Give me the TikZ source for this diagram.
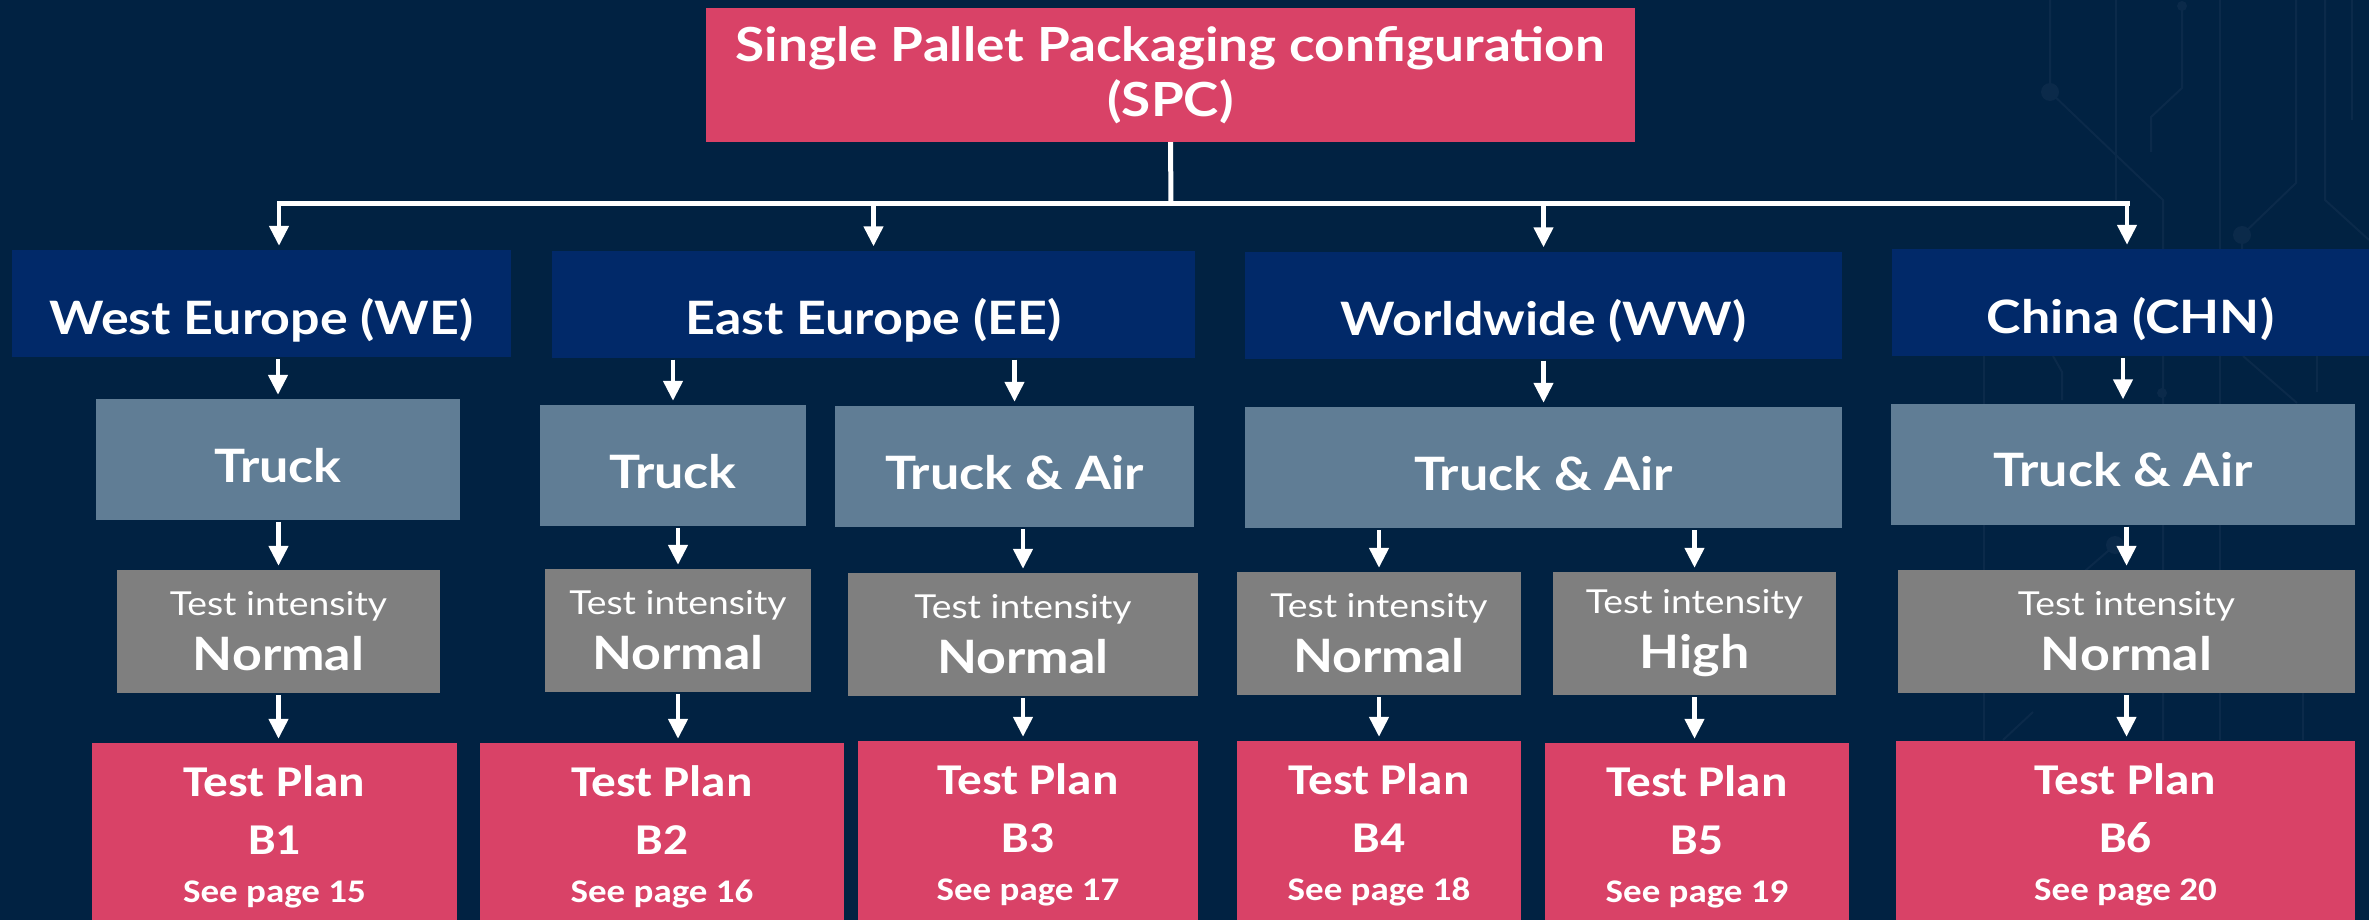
\documentclass[tikz,border=0pt]{standalone}
\usepackage{fontspec}
\setmainfont{Lato}[FakeStretch=1.13]
\newfontfamily\calib{Carlito}[FakeStretch=1.12]
\usetikzlibrary{arrows.meta}
\definecolor{bgnavy}{HTML}{012242}
\definecolor{regblue}{HTML}{012969}
\definecolor{trgrey}{HTML}{607D95}
\definecolor{intgrey}{HTML}{7F7F7F}
\definecolor{pinkred}{HTML}{D94267}
\definecolor{circuit}{HTML}{0B2A4A}
\begin{document}
\begin{tikzpicture}[x=1pt,y=-1pt,
  box/.style={rectangle, inner sep=0pt, text=white, align=center},
  spcbox/.style={box, fill=pinkred, minimum width=929pt, minimum height=134pt,
    font=\fontsize{47}{55}\selectfont\bfseries},
  regbox/.style={box, fill=regblue, minimum height=107pt, text height=61pt, text depth=0pt,
    font=\fontsize{46}{55}\selectfont\bfseries},
  trbox/.style={box, fill=trgrey, minimum height=121pt, text height=45pt, text depth=0pt,
    font=\fontsize{46}{55}\selectfont\bfseries},
  intbox/.style={box, fill=intgrey, minimum height=123pt,
    font=\fontsize{46}{55}\selectfont},
  planbox/.style={box, fill=pinkred, minimum height=188pt,
    font=\calib\fontsize{44}{58}\selectfont\bfseries},
  busline/.style={draw=white, line width=5pt},
  arr/.style={draw=white, line width=4.5pt, -{Triangle[width=19pt,length=20pt]},
    shorten <=2pt, shorten >=4pt},
  circ/.style={draw=circuit, line width=2pt}
]
\fill[bgnavy] (0,0) rectangle (2369,920);
\useasboundingbox (0,0) rectangle (2369,920);
\clip (0,0) rectangle (2369,920);

% faint circuit decoration
\draw[circ] (2050,0) -- (2050,92) -- (2163,200) -- (2163,740);
\fill[circuit] (2050,92) circle (9);
\draw[circ] (2116,0) -- (2116,200);
\draw[circ] (2182,6) -- (2182,88) -- (2151,117) -- (2151,152);
\fill[circuit] (2182,6) circle (5);
\draw[circ] (2220,0) -- (2220,740);
\draw[circ] (2296,0) -- (2296,183) -- (2242,235) -- (2242,260);
\fill[circuit] (2242,235) circle (9);
\draw[circ] (2325,0) -- (2325,200) -- (2369,240);
\draw[circ] (2352,0) -- (2352,120);
\draw[circ] (1984,356) -- (1984,740);
\draw[circ] (2053,356) -- (2062,372) -- (2062,400);
\fill[circuit] (2162,393) circle (5);
\draw[circ] (2243,356) -- (2297,403);
\draw[circ] (2317,356) -- (2317,392);
\draw[circ] (2115,545) -- (2063,590) -- (2063,690);
\fill[circuit] (2115,545) circle (9);
\draw[circ] (2033,712) -- (2003,740);
\draw[circ] (2303,693) -- (2303,740);

% top
\node[spcbox] (spc) at (1170.5,75) {Single Pallet Packaging configuration\\(SPC)};

% regions
\node[regbox, minimum width=499pt] (we) at (261.5,303.5) {West Europe (WE)};
\node[regbox, minimum width=643pt] (ee) at (873.5,304) {East Europe (EE)};
\node[regbox, minimum width=597pt] (ww) at (1543.5,305) {Worldwide (WW)};
\node[regbox, minimum width=477pt] (chn) at (2130.5,302.5) {China (CHN)};

% transport
\node[trbox, minimum width=364pt] (wetr) at (278,459.5) {Truck};
\node[trbox, minimum width=266pt] (eetr) at (673,465.5) {Truck};
\node[trbox, minimum width=359pt] (eeta) at (1014.5,466.5) {Truck \& Air};
\node[trbox, minimum width=597pt] (wwta) at (1543.5,467.5) {Truck \& Air};
\node[trbox, minimum width=464pt] (chta) at (2123,464) {Truck \& Air};

% intensity
\newcommand{\intens}[1]{{\fontsize{33}{40}\selectfont Test intensity}\\{\bfseries #1}}
\node[intbox, minimum width=323pt] (wei) at (278.5,631.5) {\intens{Normal}};
\node[intbox, minimum width=266pt] (eei1) at (678,630.5) {\intens{Normal}};
\node[intbox, minimum width=350pt] (eei2) at (1023,634.5) {\intens{Normal}};
\node[intbox, minimum width=284pt] (wwi1) at (1379,633.5) {\intens{Normal}};
\node[intbox, minimum width=283pt] (wwi2) at (1694.5,633.5) {\intens{High}};
\node[intbox, minimum width=457pt] (chi) at (2126.5,631.5) {\intens{Normal}};

% test plans
\newcommand{\plan}[2]{Test Plan\\#1\\[-10pt]{\fontsize{33}{45}\selectfont See page #2}}
\node[planbox, minimum width=365pt] (wep) at (274.5,837) {\plan{B1}{15}};
\node[planbox, minimum width=364pt] (eep1) at (662,837) {\plan{B2}{16}};
\node[planbox, minimum width=340pt] (eep2) at (1028,835) {\plan{B3}{17}};
\node[planbox, minimum width=284pt] (wwp1) at (1379,835) {\plan{B4}{18}};
\node[planbox, minimum width=304pt] (wwp2) at (1697,837) {\plan{B5}{19}};
\node[planbox, minimum width=459pt] (chp) at (2125.5,835) {\plan{B6}{20}};

% bus
\coordinate (busM) at (1171,204);
\coordinate (busL) at (279,204);
\coordinate (busR) at (2127,204);
\draw[busline] (spc.south) -- (busM);
\draw[busline, line cap=rect] (busL) -- (busR);
\draw[arr, shorten <=0pt] (busL) -- (busL |- we.north);
\draw[arr, shorten <=0pt] (ee.north |- busM) -- (ee.north);
\draw[arr, shorten <=0pt] (ww.north |- busM) -- (ww.north);
\draw[arr, shorten <=0pt] (busR) -- (busR |- chn.north);

% region -> transport
\draw[arr] (wetr.north |- we.south) -- (wetr.north);
\draw[arr] (eetr.north |- ee.south) -- (eetr.north);
\draw[arr] (eeta.north |- ee.south) -- (eeta.north);
\draw[arr] (wwta.north |- ww.south) -- (wwta.north);
\draw[arr] (chta.north |- chn.south) -- (chta.north);

% transport -> intensity
\draw[arr] (wei.north |- wetr.south) -- (wei.north);
\draw[arr] (eei1.north |- eetr.south) -- (eei1.north);
\draw[arr] (eei2.north |- eeta.south) -- (eei2.north);
\draw[arr] (wwi1.north |- wwta.south) -- (wwi1.north);
\draw[arr] (wwi2.north |- wwta.south) -- (wwi2.north);
\draw[arr] (chi.north |- chta.south) -- (chi.north);

% intensity -> plan
\draw[arr] (wei.south) -- (wei.south |- wep.north);
\draw[arr] (eei1.south) -- (eei1.south |- eep1.north);
\draw[arr] (eei2.south) -- (eei2.south |- eep2.north);
\draw[arr] (wwi1.south) -- (wwi1.south |- wwp1.north);
\draw[arr] (wwi2.south) -- (wwi2.south |- wwp2.north);
\draw[arr] (chi.south) -- (chi.south |- chp.north);
\end{tikzpicture}
\end{document}
